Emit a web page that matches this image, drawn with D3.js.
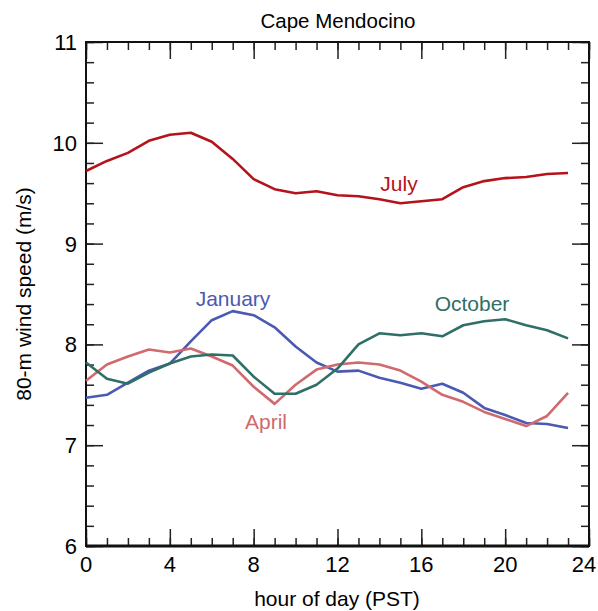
<!DOCTYPE html>
<html>
<head>
<meta charset="utf-8">
<script src="https://cdn.jsdelivr.net/npm/d3@7"></script>
<style>
  body { margin: 0; background: #fff; }
  text { font-family: "Liberation Sans", Arial, sans-serif; }
</style>
</head>
<body>
<svg id="chart" width="598" height="611"></svg>
<script>
// hourly mean 80-m wind speed, Cape Mendocino
var hours = d3.range(0, 24);
var july    = [9.72, 9.82, 9.90, 10.02, 10.08, 10.10, 10.01, 9.84, 9.64, 9.54, 9.50, 9.52,
               9.48, 9.47, 9.44, 9.40, 9.42, 9.44, 9.56, 9.62, 9.65, 9.66, 9.69, 9.70];
var january = [7.47, 7.50, 7.62, 7.74, 7.81, 8.03, 8.24, 8.33, 8.29, 8.17, 7.98, 7.82,
               7.73, 7.74, 7.67, 7.62, 7.56, 7.61, 7.52, 7.37, 7.30, 7.22, 7.21, 7.17];
var april   = [7.64, 7.80, 7.88, 7.95, 7.92, 7.96, 7.88, 7.79, 7.58, 7.41, 7.60, 7.75,
               7.80, 7.82, 7.80, 7.74, 7.63, 7.50, 7.43, 7.33, 7.26, 7.19, 7.29, 7.52];
var october = [7.82, 7.66, 7.61, 7.72, 7.81, 7.88, 7.90, 7.89, 7.68, 7.51, 7.51, 7.60,
               7.76, 8.00, 8.11, 8.09, 8.11, 8.08, 8.19, 8.23, 8.25, 8.19, 8.14, 8.06];

var xTicks = [0, 4, 8, 12, 16, 20, 24];
var yTicks = [6, 7, 8, 9, 10, 11];

var series = [
    {name: "July",    values: july,    color: "#b5121b", lx: 399, ly: 191},
    {name: "January", values: january, color: "#4a5ab2", lx: 233, ly: 306},
    {name: "April",   values: april,   color: "#d06a6e", lx: 266, ly: 429},
    {name: "October", values: october, color: "#2f6f66", lx: 472, ly: 311}
];

var svg = d3.select("#chart"),
    margin = {top: 42, right: 9, bottom: 65, left: 86},
    width = +svg.attr("width") - margin.left - margin.right,
    height = +svg.attr("height") - margin.top - margin.bottom;

var x = d3.scaleLinear().domain([0, 24]).range([0, width]),
    y = d3.scaleLinear().domain([6, 11]).range([height, 0]);

var g = svg.append("g")
    .attr("transform", "translate(" + margin.left + "," + margin.top + ")");

// ticks on all four sides, pointing inward
function drawTicks(axisFn, scale, major, minor, transform) {
    var a = g.append("g").attr("transform", transform);
    a.call(axisFn(scale).tickValues(minor).tickSize(-8).tickFormat(""));
    a.select(".domain").remove();
    var b = g.append("g").attr("transform", transform);
    b.call(axisFn(scale).tickValues(major).tickSize(-17).tickFormat(""));
    b.select(".domain").remove();
    g.selectAll(".tick line").attr("stroke", "#222").attr("stroke-width", 1.5);
}

var xMinor = d3.range(0, 25, 1),
    yMinor = d3.range(6, 11.001, 0.2).map(function (d) { return +d.toFixed(1); });

drawTicks(d3.axisBottom, x, xTicks, xMinor, "translate(0," + height + ")");
drawTicks(d3.axisTop, x, xTicks, xMinor, "translate(0,0)");
drawTicks(d3.axisLeft, y, yTicks, yMinor, "translate(0,0)");
drawTicks(d3.axisRight, y, yTicks, yMinor, "translate(" + width + ",0)");

// tick labels (last one pulled in so it stays on the page)
g.selectAll(".xlab")
    .data(xTicks)
    .enter().append("text")
    .attr("x", function (d) { return Math.min(x(d), width - 5); })
    .attr("y", height + 26)
    .attr("text-anchor", "middle")
    .style("font-size", "22px")
    .text(function (d) { return d; });

g.selectAll(".ylab")
    .data(yTicks)
    .enter().append("text")
    .attr("x", -9)
    .attr("y", function (d) { return y(d) + 8; })
    .attr("text-anchor", "end")
    .style("font-size", "22px")
    .text(function (d) { return d; });

// frame
g.append("rect")
    .attr("width", width)
    .attr("height", height)
    .attr("fill", "none")
    .attr("stroke", "#111")
    .attr("stroke-width", 2);
g.append("line")
    .attr("x1", 0).attr("x2", width)
    .attr("y1", height).attr("y2", height)
    .attr("stroke", "#111").attr("stroke-width", 3);

var line = d3.line()
    .x(function (d, i) { return x(hours[i]); })
    .y(function (d) { return y(d); });

series.forEach(function (s) {
    g.append("path")
        .datum(s.values)
        .attr("fill", "none")
        .attr("stroke", s.color)
        .attr("stroke-width", 2.6)
        .attr("stroke-linejoin", "round")
        .attr("d", line);

    svg.append("text")
        .attr("x", s.lx)
        .attr("y", s.ly)
        .attr("text-anchor", "middle")
        .attr("fill", s.color)
        .style("font-size", "21px")
        .text(s.name);
});

// titles
svg.append("text")
    .attr("x", 338)
    .attr("y", 28)
    .attr("text-anchor", "middle")
    .style("font-size", "20.5px")
    .text("Cape Mendocino");

svg.append("text")
    .attr("x", 337)
    .attr("y", 606)
    .attr("text-anchor", "middle")
    .style("font-size", "21px")
    .text("hour of day (PST)");

svg.append("text")
    .attr("transform", "translate(31," + (margin.top + height / 2) + ") rotate(-90)")
    .attr("text-anchor", "middle")
    .style("font-size", "21px")
    .text("80-m wind speed (m/s)");
</script>
</body>
</html>
